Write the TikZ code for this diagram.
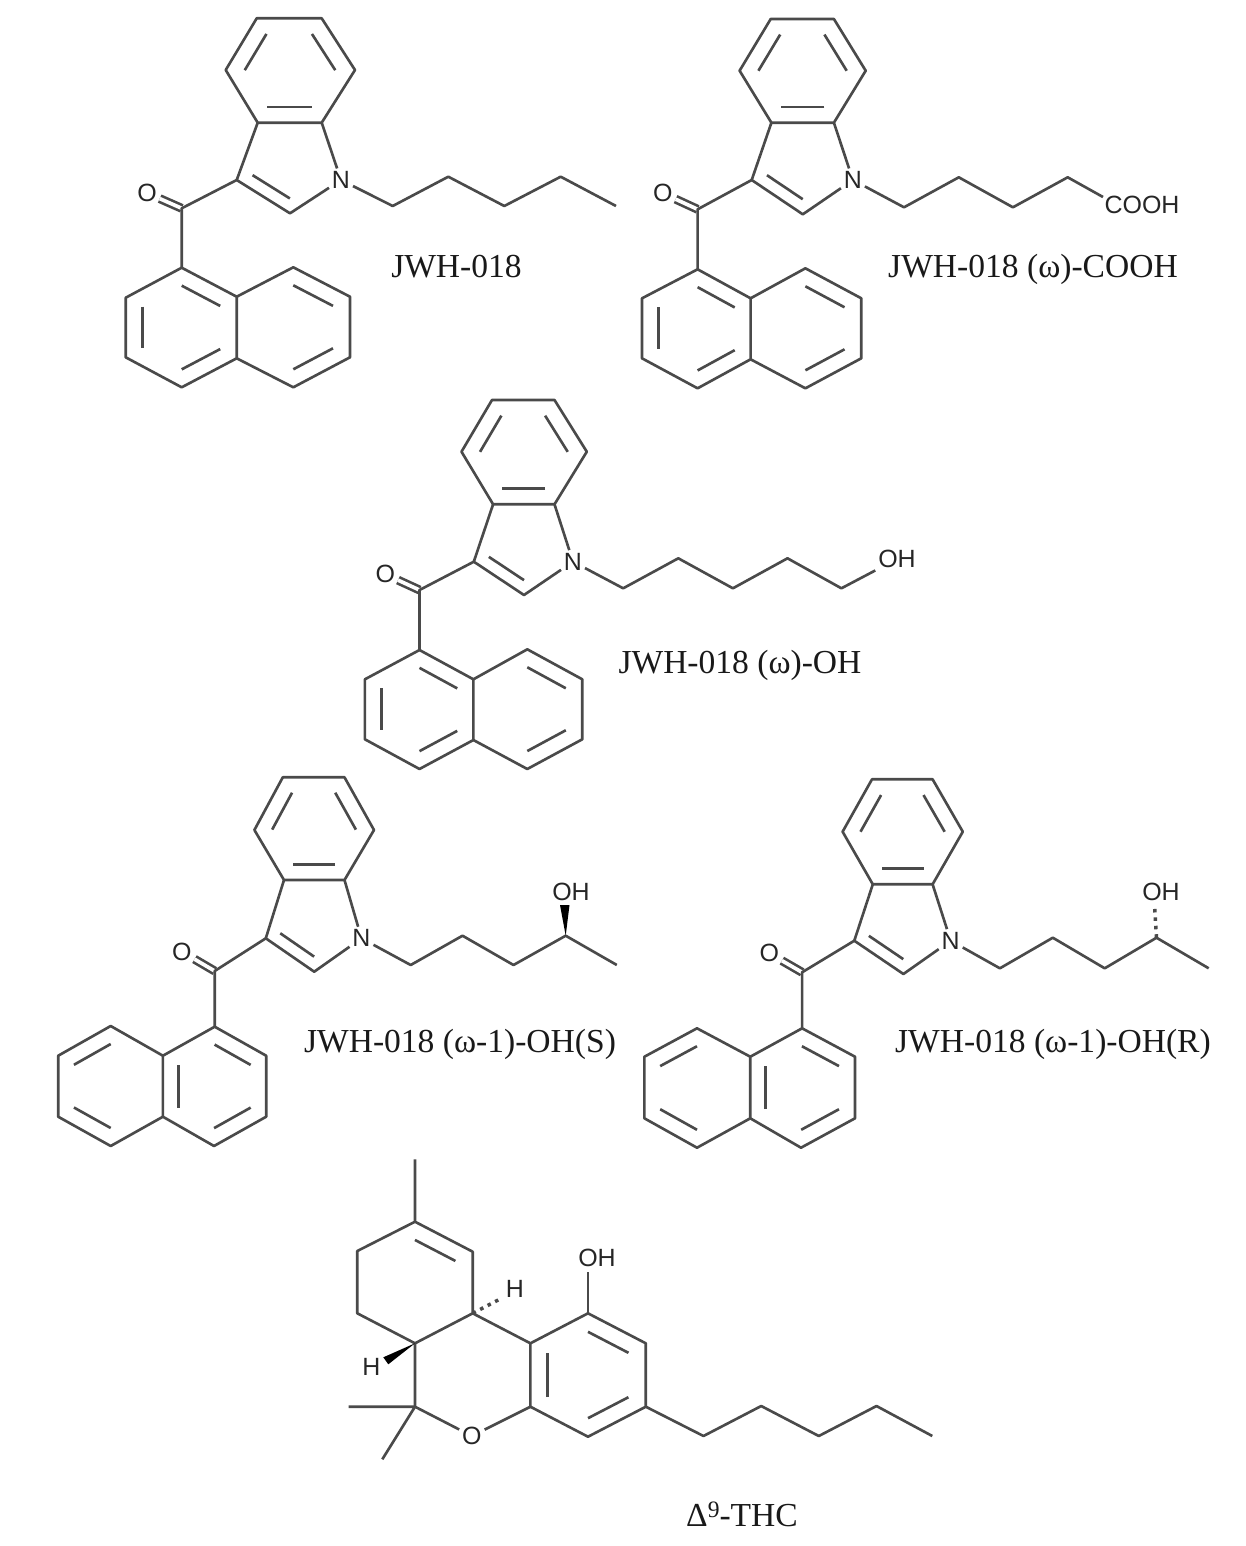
\documentclass[tikz,border=0pt]{standalone}
\usepackage{fontspec}
\setmainfont{Liberation Serif}
\newfontfamily\atomfont{Liberation Sans}
\usetikzlibrary{calc}
\definecolor{bondgray}{HTML}{4A4A4A}
\definecolor{atomgray}{HTML}{262626}
\newcommand{\innerbond}[3]{\draw [bond] ($(#1)!0.3!(#3)$) -- ($(#2)!0.3!(#3)$);}

\begin{document}
\begin{tikzpicture}[x=0.02cm,y=-0.02cm,
  bond/.style={bondgray,line width=1.5pt,line join=round},
  dblbond/.style={bond,double=white,double distance=2.1pt},
  hashbond/.style={bondgray,line width=2pt,dash pattern=on 2pt off 2.8pt},
  atom/.style={inner sep=1.5pt,text=atomgray,font=\atomfont\fontsize{14.2}{15}\selectfont},
  namelabel/.style={inner sep=0pt,text height=12.9pt,text depth=0pt,text=black!90,font=\fontsize{19.1}{23}\selectfont}]
\useasboundingbox (0,0) rectangle (1246,1546);

\coordinate (a1) at (256.7,18.3);
\coordinate (a2) at (321.7,18.3);
\coordinate (a3) at (355,70);
\coordinate (a4) at (321.7,122.7);
\coordinate (a5) at (257.7,122.7);
\coordinate (a6) at (225.7,70);
\coordinate (aC3) at (236.7,180);
\coordinate (aC2) at (290,213.3);
\node [atom] (aN) at (341,180) {N};
\coordinate (aK) at (181.7,208.3);
\node [atom] (aO) at (147,193) {O};
\coordinate (aq1) at (181.7,267.7);
\coordinate (aq2) at (125.7,297.7);
\coordinate (aq3) at (125.7,357.3);
\coordinate (aq4) at (181.7,387.3);
\coordinate (aq5) at (236.7,358.3);
\coordinate (aq6) at (236.7,296.7);
\coordinate (aq7) at (293.3,267.3);
\coordinate (aq8) at (350,296.7);
\coordinate (aq9) at (350,357.3);
\coordinate (aq10) at (293.3,387.3);
\coordinate (as1) at (392.7,206);
\coordinate (as2) at (448.3,176.7);
\coordinate (as3) at (504.3,206);
\coordinate (as4) at (560.7,176.7);
\coordinate (as5) at (616,206);
\coordinate (acb) at ($(a1)!0.5!(a4)$);
\coordinate (acf) at (289.6,163.8);
\coordinate (aca) at ($(aq1)!0.5!(aq4)$);
\coordinate (acd) at ($(aq7)!0.5!(aq10)$);
\draw [dblbond] (aK) -- (aO);
\draw [bond] (a1) -- (a2) -- (a3) -- (a4) -- (a5) -- (a6) -- cycle;
\draw [bond] (a5) -- (aC3) -- (aC2) -- (aN) -- (a4);
\draw [bond] (aC3) -- (aK) -- (aq1);
\draw [bond] (aq1) -- (aq2) -- (aq3) -- (aq4) -- (aq5) -- (aq6) -- cycle;
\draw [bond] (aq6) -- (aq7) -- (aq8) -- (aq9) -- (aq10) -- (aq5);
\draw [bond] (aN) -- (as1) -- (as2) -- (as3) -- (as4) -- (as5);
\innerbond{a6}{a1}{acb}
\innerbond{a2}{a3}{acb}
\innerbond{a4}{a5}{acb}
\innerbond{aC3}{aC2}{acf}
\innerbond{aq1}{aq6}{aca}
\innerbond{aq2}{aq3}{aca}
\innerbond{aq4}{aq5}{aca}
\innerbond{aq7}{aq8}{acd}
\innerbond{aq9}{aq10}{acd}
\node [namelabel] (alabel) at (456.5,266) {JWH-018};

\coordinate (b1) at (770.7,19);
\coordinate (b2) at (833.9,19);
\coordinate (b3) at (865.7,70.7);
\coordinate (b4) at (833.9,122.7);
\coordinate (b5) at (771.4,122.7);
\coordinate (b6) at (739.6,70.7);
\coordinate (bC3) at (751.7,180);
\coordinate (bC2) at (802.8,214.3);
\node [atom] (bN) at (852.9,180) {N};
\coordinate (bK) at (697.6,209.3);
\node [atom] (bO) at (662.9,193.3) {O};
\coordinate (bq1) at (697.6,269.3);
\coordinate (bq2) at (642,298.3);
\coordinate (bq3) at (642,358.3);
\coordinate (bq4) at (697.6,388.3);
\coordinate (bq5) at (750.6,359.3);
\coordinate (bq6) at (750.6,298.3);
\coordinate (bq7) at (805.4,268.3);
\coordinate (bq8) at (861.3,298.3);
\coordinate (bq9) at (861.3,358.3);
\coordinate (bq10) at (805.4,388.3);
\coordinate (bs1) at (904,207.3);
\coordinate (bs2) at (958.8,177.3);
\coordinate (bs3) at (1012.9,207.3);
\coordinate (bs4) at (1067.7,177.3);
\coordinate (bs5) at (1103,197);
\coordinate (bcb) at ($(b1)!0.5!(b4)$);
\coordinate (bcf) at (802.6,164);
\coordinate (bca) at ($(bq1)!0.5!(bq4)$);
\coordinate (bcd) at ($(bq7)!0.5!(bq10)$);
\draw [dblbond] (bK) -- (bO);
\draw [bond] (b1) -- (b2) -- (b3) -- (b4) -- (b5) -- (b6) -- cycle;
\draw [bond] (b5) -- (bC3) -- (bC2) -- (bN) -- (b4);
\draw [bond] (bC3) -- (bK) -- (bq1);
\draw [bond] (bq1) -- (bq2) -- (bq3) -- (bq4) -- (bq5) -- (bq6) -- cycle;
\draw [bond] (bq6) -- (bq7) -- (bq8) -- (bq9) -- (bq10) -- (bq5);
\draw [bond] (bN) -- (bs1) -- (bs2) -- (bs3) -- (bs4) -- (bs5);
\innerbond{b6}{b1}{bcb}
\innerbond{b2}{b3}{bcb}
\innerbond{b4}{b5}{bcb}
\innerbond{bC3}{bC2}{bcf}
\innerbond{bq1}{bq6}{bca}
\innerbond{bq2}{bq3}{bca}
\innerbond{bq4}{bq5}{bca}
\innerbond{bq7}{bq8}{bcd}
\innerbond{bq9}{bq10}{bcd}
\node [atom] (bCOOH) at (1142,205) {COOH};
\node [namelabel] (blabel) at (1033,266) {JWH-018 (ω)-COOH};

\coordinate (c1) at (492,400);
\coordinate (c2) at (554.5,400);
\coordinate (c3) at (586.8,451.7);
\coordinate (c4) at (554.5,504.3);
\coordinate (c5) at (493.1,504.3);
\coordinate (c6) at (461.5,451.7);
\coordinate (cC3) at (473.8,561.7);
\coordinate (cC2) at (524,595);
\node [atom] (cN) at (573,561.7) {N};
\coordinate (cK) at (419.5,590);
\node [atom] (cO) at (385.3,574.3) {O};
\coordinate (cq1) at (419.5,650);
\coordinate (cq2) at (364.9,679.3);
\coordinate (cq3) at (364.9,739.3);
\coordinate (cq4) at (419.5,769);
\coordinate (cq5) at (473.4,740);
\coordinate (cq6) at (473.4,679.3);
\coordinate (cq7) at (527.3,649.3);
\coordinate (cq8) at (582.3,679.3);
\coordinate (cq9) at (582.3,739.3);
\coordinate (cq10) at (527.3,769);
\coordinate (cs1) at (623.2,588.3);
\coordinate (cs2) at (678.3,558.3);
\coordinate (cs3) at (732.9,588.3);
\coordinate (cs4) at (787.5,558.3);
\coordinate (cs5) at (841.4,588.3);
\coordinate (ccb) at ($(c1)!0.5!(c4)$);
\coordinate (ccf) at (524,545.5);
\coordinate (cca) at ($(cq1)!0.5!(cq4)$);
\coordinate (ccd) at ($(cq7)!0.5!(cq10)$);
\node [atom] (cOH) at (897,559) {OH};
\draw [dblbond] (cK) -- (cO);
\draw [bond] (c1) -- (c2) -- (c3) -- (c4) -- (c5) -- (c6) -- cycle;
\draw [bond] (c5) -- (cC3) -- (cC2) -- (cN) -- (c4);
\draw [bond] (cC3) -- (cK) -- (cq1);
\draw [bond] (cq1) -- (cq2) -- (cq3) -- (cq4) -- (cq5) -- (cq6) -- cycle;
\draw [bond] (cq6) -- (cq7) -- (cq8) -- (cq9) -- (cq10) -- (cq5);
\draw [bond] (cN) -- (cs1) -- (cs2) -- (cs3) -- (cs4) -- (cs5) -- (cOH);
\innerbond{c6}{c1}{ccb}
\innerbond{c2}{c3}{ccb}
\innerbond{c4}{c5}{ccb}
\innerbond{cC3}{cC2}{ccf}
\innerbond{cq1}{cq6}{cca}
\innerbond{cq2}{cq3}{cca}
\innerbond{cq4}{cq5}{cca}
\innerbond{cq7}{cq8}{ccd}
\innerbond{cq9}{cq10}{ccd}
\node [namelabel] (clabel) at (740,662) {JWH-018 (ω)-OH};

\coordinate (d1) at (282.8,777.3);
\coordinate (d2) at (344.5,777.3);
\coordinate (d3) at (374,830);
\coordinate (d4) at (344.5,880);
\coordinate (d5) at (284,880);
\coordinate (d6) at (254.4,830);
\coordinate (dC3) at (265.8,938.3);
\coordinate (dC2) at (314.2,971.7);
\node [atom] (dN) at (361.5,938.3) {N};
\coordinate (dK) at (214.7,971);
\node [atom] (dO) at (181.8,951.7) {O};
\coordinate (dq1) at (214.7,1026.7);
\coordinate (dq2) at (266.2,1055.7);
\coordinate (dq3) at (266.2,1116.7);
\coordinate (dq4) at (214,1146);
\coordinate (dq5) at (162.9,1116.7);
\coordinate (dq6) at (162.9,1055.7);
\coordinate (dq7) at (110.7,1026);
\coordinate (dq8) at (58.2,1055.7);
\coordinate (dq9) at (58.2,1116.7);
\coordinate (dq10) at (110.7,1146);
\coordinate (ds1) at (410.7,965);
\coordinate (ds2) at (462.5,935.7);
\coordinate (ds3) at (513.5,965);
\coordinate (ds4) at (565.7,935.7);
\coordinate (ds5) at (616.8,965);
\coordinate (dw1) at (560,905);
\coordinate (dw2) at (569.5,905);
\coordinate (dcb) at ($(d1)!0.5!(d4)$);
\coordinate (dcf) at (314,921.5);
\coordinate (dca) at ($(dq1)!0.5!(dq4)$);
\coordinate (dcd) at ($(dq7)!0.5!(dq10)$);
\draw [dblbond] (dK) -- (dO);
\draw [bond] (d1) -- (d2) -- (d3) -- (d4) -- (d5) -- (d6) -- cycle;
\draw [bond] (d5) -- (dC3) -- (dC2) -- (dN) -- (d4);
\draw [bond] (dC3) -- (dK) -- (dq1);
\draw [bond] (dq1) -- (dq2) -- (dq3) -- (dq4) -- (dq5) -- (dq6) -- cycle;
\draw [bond] (dq6) -- (dq7) -- (dq8) -- (dq9) -- (dq10) -- (dq5);
\draw [bond] (dN) -- (ds1) -- (ds2) -- (ds3) -- (ds4) -- (ds5);
\fill [black] (ds4) -- (dw1) -- (dw2) -- cycle;
\innerbond{d6}{d1}{dcb}
\innerbond{d2}{d3}{dcb}
\innerbond{d4}{d5}{dcb}
\innerbond{dC3}{dC2}{dcf}
\innerbond{dq1}{dq2}{dca}
\innerbond{dq3}{dq4}{dca}
\innerbond{dq5}{dq6}{dca}
\innerbond{dq7}{dq8}{dcd}
\innerbond{dq9}{dq10}{dcd}
\node [atom] (dOH) at (571,892) {OH};
\node [namelabel] (dlabel) at (460,1041) {JWH-018 (ω-1)-OH(S)};

\coordinate (e1) at (872,779.3);
\coordinate (e2) at (932.6,779.3);
\coordinate (e3) at (962.8,831.7);
\coordinate (e4) at (932.6,884.3);
\coordinate (e5) at (872.8,884.3);
\coordinate (e6) at (842.6,831.7);
\coordinate (eC3) at (854.3,940.7);
\coordinate (eC2) at (903.4,974);
\node [atom] (eN) at (950.7,940.7) {N};
\coordinate (eK) at (802.1,972.3);
\node [atom] (eO) at (769.2,953.3) {O};
\coordinate (eq1) at (802.1,1028.3);
\coordinate (eq2) at (855,1056.7);
\coordinate (eq3) at (855,1118.3);
\coordinate (eq4) at (801,1147.7);
\coordinate (eq5) at (750.3,1118.3);
\coordinate (eq6) at (750.3,1056.7);
\coordinate (eq7) at (697,1028.3);
\coordinate (eq8) at (644.4,1056.7);
\coordinate (eq9) at (644.4,1118.3);
\coordinate (eq10) at (697,1147.7);
\coordinate (es1) at (999.9,968.3);
\coordinate (es2) at (1052.8,937.7);
\coordinate (es3) at (1104.7,968.3);
\coordinate (es4) at (1156.5,937.7);
\coordinate (es5) at (1208.7,968.3);
\coordinate (ew) at (1154.5,905);
\coordinate (ecb) at ($(e1)!0.5!(e4)$);
\coordinate (ecf) at (903,924.5);
\coordinate (eca) at ($(eq1)!0.5!(eq4)$);
\coordinate (ecd) at ($(eq7)!0.5!(eq10)$);
\draw [dblbond] (eK) -- (eO);
\draw [bond] (e1) -- (e2) -- (e3) -- (e4) -- (e5) -- (e6) -- cycle;
\draw [bond] (e5) -- (eC3) -- (eC2) -- (eN) -- (e4);
\draw [bond] (eC3) -- (eK) -- (eq1);
\draw [bond] (eq1) -- (eq2) -- (eq3) -- (eq4) -- (eq5) -- (eq6) -- cycle;
\draw [bond] (eq6) -- (eq7) -- (eq8) -- (eq9) -- (eq10) -- (eq5);
\draw [bond] (eN) -- (es1) -- (es2) -- (es3) -- (es4) -- (es5);
\draw [hashbond] (es4) -- (ew);
\innerbond{e6}{e1}{ecb}
\innerbond{e2}{e3}{ecb}
\innerbond{e4}{e5}{ecb}
\innerbond{eC3}{eC2}{ecf}
\innerbond{eq1}{eq2}{eca}
\innerbond{eq3}{eq4}{eca}
\innerbond{eq5}{eq6}{eca}
\innerbond{eq7}{eq8}{ecd}
\innerbond{eq9}{eq10}{ecd}
\node [atom] (eOH) at (1161,892) {OH};
\node [namelabel] (elabel) at (1053,1041) {JWH-018 (ω-1)-OH(R)};

\coordinate (fMe) at (415,1159.3);
\coordinate (f9) at (415,1221.7);
\coordinate (f10) at (472.7,1251.7);
\coordinate (f10a) at (472.7,1313.3);
\coordinate (f6a) at (415,1343.3);
\coordinate (f7) at (357.3,1313.3);
\coordinate (f8) at (357.3,1251);
\coordinate (f10b) at (530.4,1343.3);
\coordinate (f1) at (588,1313.3);
\coordinate (f2) at (645.8,1343.3);
\coordinate (f3) at (645.8,1406.7);
\coordinate (f4) at (588,1436.7);
\coordinate (f4a) at (530.4,1406.7);
\coordinate (f6) at (415,1406.7);
\node [atom] (fO) at (471.9,1436) {O};
\coordinate (fMa) at (348.5,1406.7);
\coordinate (fMb) at (382.3,1459.3);
\coordinate (fe) at (588,1271.5);
\coordinate (fs1) at (703.5,1436);
\coordinate (fs2) at (761.2,1406);
\coordinate (fs3) at (818.8,1436);
\coordinate (fs4) at (876.5,1406);
\coordinate (fs5) at (932.3,1436);
\coordinate (fh) at (502,1298);
\coordinate (fw1) at (383.3,1357.3);
\coordinate (fw2) at (388.3,1364.3);
\coordinate (fcl) at ($(f9)!0.5!(f6a)$);
\coordinate (fcr) at ($(f1)!0.5!(f4)$);
\draw [bond] (fMe) -- (f9) -- (f10) -- (f10a) -- (f6a) -- (f7) -- (f8) -- (f9);
\draw [bond] (f10a) -- (f10b) -- (f1) -- (f2) -- (f3) -- (f4) -- (f4a) -- (f10b);
\draw [bond] (f6a) -- (f6) -- (fO) -- (f4a);
\draw [bond] (fMa) -- (f6) -- (fMb);
\draw [bond] (f1) -- (fe);
\draw [bond] (f3) -- (fs1) -- (fs2) -- (fs3) -- (fs4) -- (fs5);
\draw [hashbond] (f10a) -- (fh);
\fill [black] (f6a) -- (fw1) -- (fw2) -- cycle;
\innerbond{f9}{f10}{fcl}
\innerbond{f1}{f2}{fcr}
\innerbond{f3}{f4}{fcr}
\innerbond{f4a}{f10b}{fcr}
\node [atom] (fOH) at (597,1258) {OH};
\node [atom] (fH1) at (515,1289.3) {H};
\node [atom] (fH2) at (371.5,1366.7) {H};
\node [namelabel] (flabel) at (742,1515) {Δ\raisebox{5pt}{\fontsize{13.4}{14}\selectfont 9}-THC};
\end{tikzpicture}
\end{document}
